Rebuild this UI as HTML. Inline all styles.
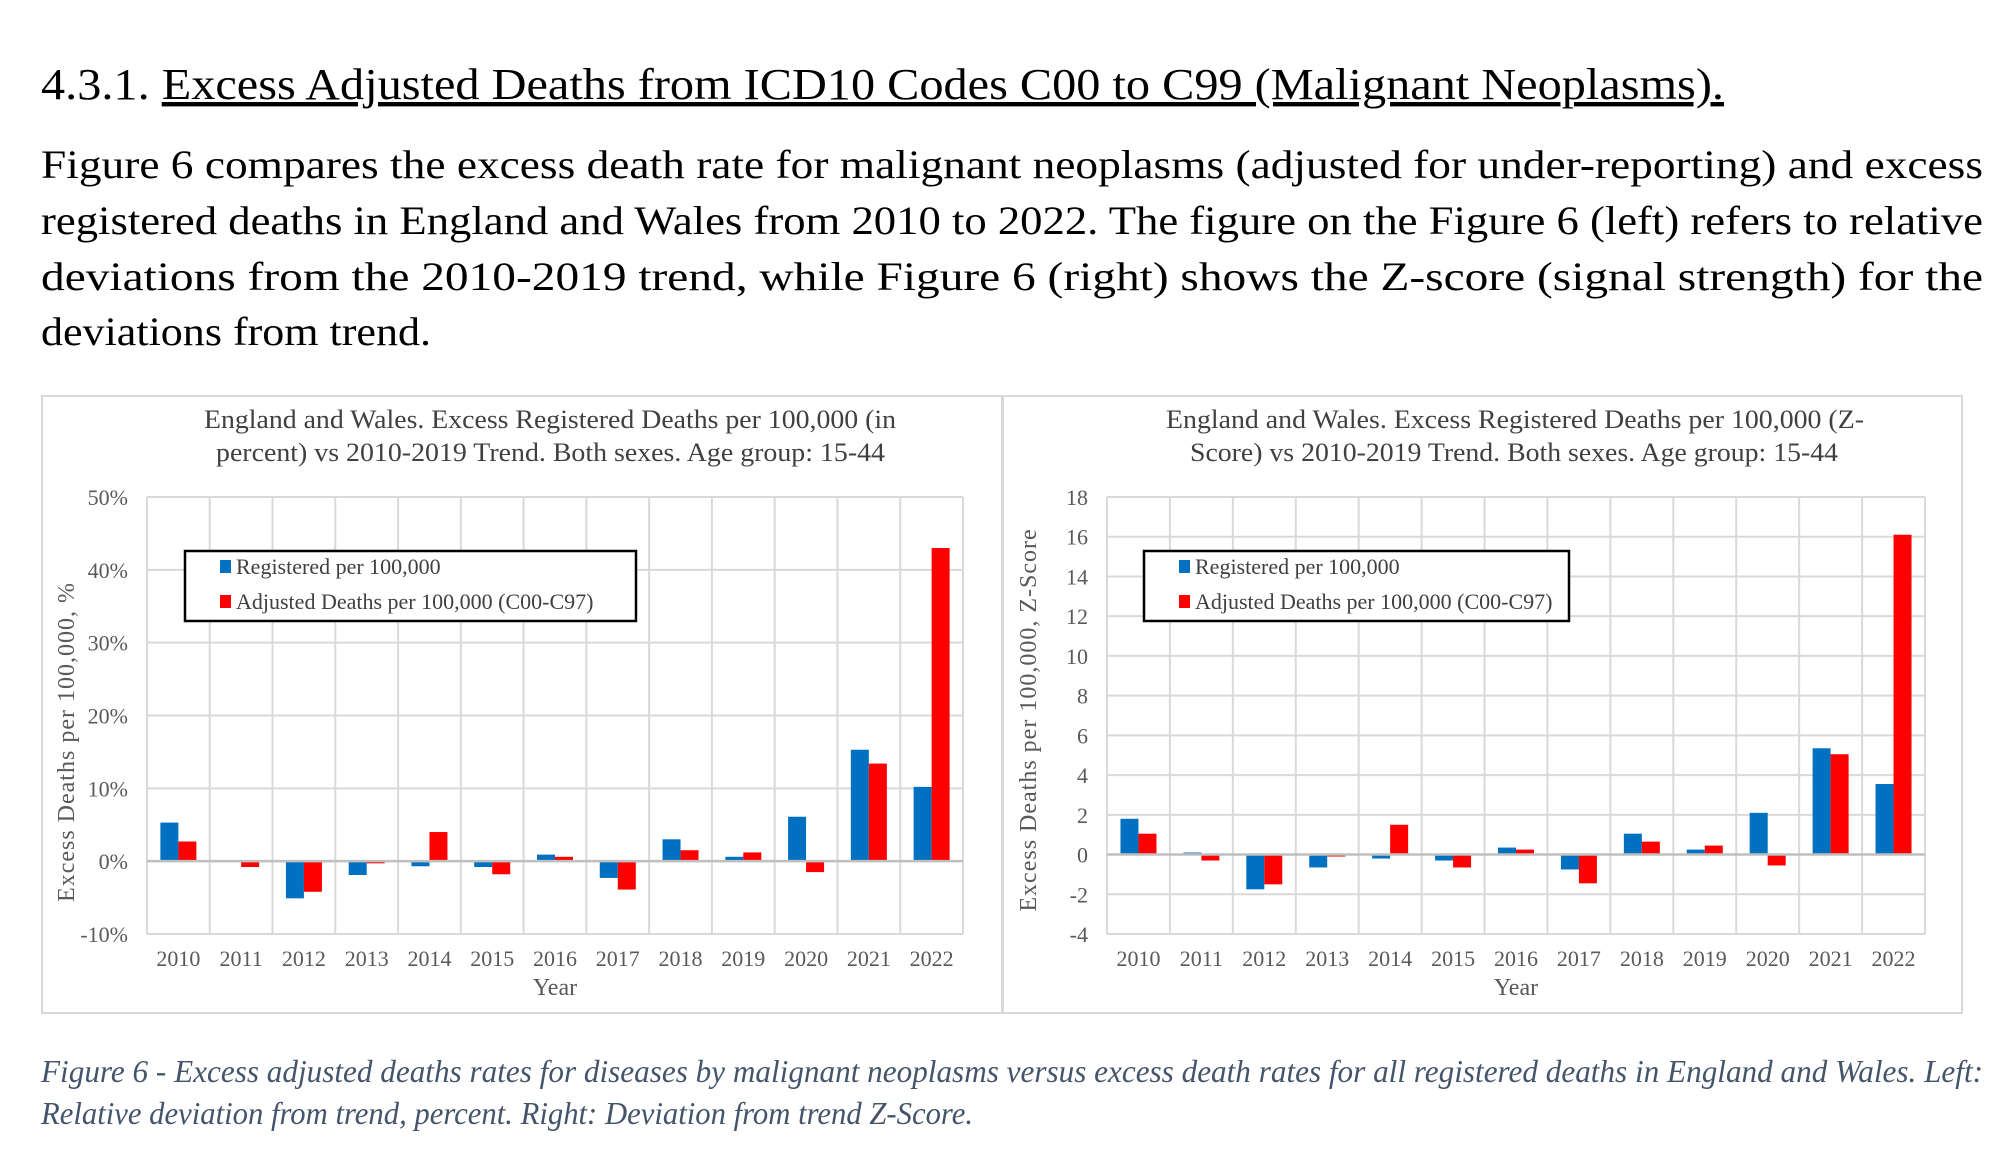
<!DOCTYPE html>
<html><head><meta charset="utf-8"><style>
html,body{margin:0;padding:0;background:#fff;}
svg{display:block;font-family:"Liberation Serif",serif;}
</style></head>
<body>
<svg id="page" width="1998" height="1154" viewBox="0 0 1998 1154" xmlns="http://www.w3.org/2000/svg">
<g font-size="44" fill="#000">
<text x="41" y="99" textLength="1683" lengthAdjust="spacingAndGlyphs">4.3.1. <tspan text-decoration="underline">Excess Adjusted Deaths from ICD10 Codes C00 to C99 (Malignant Neoplasms).</tspan></text>
</g>
<g font-size="40" fill="#000">
<text x="41" y="178" textLength="1942" lengthAdjust="spacingAndGlyphs">Figure 6 compares the excess death rate for malignant neoplasms (adjusted for under-reporting) and excess</text>
<text x="41" y="234" textLength="1942" lengthAdjust="spacingAndGlyphs">registered deaths in England and Wales from 2010 to 2022. The figure on the Figure 6 (left) refers to relative</text>
<text x="41" y="290" textLength="1942" lengthAdjust="spacingAndGlyphs">deviations from the 2010-2019 trend, while Figure 6 (right) shows the Z-score (signal strength) for the</text>
<text x="41" y="345" textLength="390" lengthAdjust="spacingAndGlyphs">deviations from trend.</text>
</g>
<g id="charts"></g>
<g font-size="32" font-style="italic" fill="#44546a">
<text x="41" y="1082" textLength="1942" lengthAdjust="spacingAndGlyphs">Figure 6 - Excess adjusted deaths rates for diseases by malignant neoplasms versus excess death rates for all registered deaths in England and Wales. Left:</text>
<text x="41" y="1124" textLength="932" lengthAdjust="spacingAndGlyphs">Relative deviation from trend, percent. Right: Deviation from trend Z-Score.</text>
</g>
</svg>
<script>
const years = ["2010","2011","2012","2013","2014","2015","2016","2017","2018","2019","2020","2021","2022"];
const leftRegistered = [5.3,0,-5.1,-1.9,-0.7,-0.8,0.9,-2.3,3.0,0.6,6.1,15.3,10.2];
const leftAdjusted = [2.7,-0.8,-4.2,-0.3,4.0,-1.8,0.6,-3.9,1.5,1.2,-1.5,13.4,43.0];
const leftTicks = [-10,0,10,20,30,40,50];
const rightRegistered = [1.8,0.1,-1.75,-0.65,-0.2,-0.3,0.35,-0.75,1.05,0.25,2.1,5.35,3.55];
const rightAdjusted = [1.05,-0.3,-1.5,-0.1,1.5,-0.65,0.25,-1.45,0.65,0.45,-0.55,5.05,16.1];
const rightTicks = [-4,-2,0,2,4,6,8,10,12,14,16,18];
const legendLabels = ["Registered per 100,000","Adjusted Deaths per 100,000 (C00-C97)"];

const NS="http://www.w3.org/2000/svg";
function mk(parent,tag,attrs,text){const e=document.createElementNS(NS,tag);for(const k in attrs)e.setAttribute(k,attrs[k]);if(text!==undefined)e.textContent=text;parent.appendChild(e);return e;}

function drawChart(cfg){
  const root=document.getElementById('charts');
  const g=mk(root,'g',{});
  
  
  const panel=mk(g,'rect',{x:cfg.px,y:396,width:cfg.pw,height:617,fill:'#fff',stroke:'#d9d9d9','stroke-width':2});
  
  
  const L=cfg.L,R=cfg.R,T=497,B=934;
  const ymin=cfg.ticks[0],ymax=cfg.ticks[cfg.ticks.length-1];
  const y=v=>B-(v-ymin)/(ymax-ymin)*(B-T);
  const cw=(R-L)/years.length;
  const x=i=>L+i*cw;
  const t1=mk(g,'text',{x:cfg.tx1,y:428,'font-size':26,fill:'#404040',textLength:cfg.tl1,lengthAdjust:'spacingAndGlyphs'},cfg.title[0]);
  
  
  const t2=mk(g,'text',{x:cfg.tx2,y:461,'font-size':26,fill:'#404040',textLength:cfg.tl2,lengthAdjust:'spacingAndGlyphs'},cfg.title[1]);
  
  
  cfg.ticks.forEach(tv=>{
    const ln=mk(g,'line',{x1:L,x2:R,y1:y(tv),y2:y(tv),stroke:'#d9d9d9','stroke-width':2});
    
    
    const lb=mk(g,'text',{x:cfg.tickX,y:y(tv)+8,'font-size':22,fill:'#595959','text-anchor':'end'},cfg.fmt(tv));
    
    
  });
  for(let i=0;i<=years.length;i++){
    const ln=mk(g,'line',{x1:x(i),x2:x(i),y1:T,y2:B,stroke:'#d9d9d9','stroke-width':2});
    
    
  }
  const bw=18,off=(cw-2*bw)/2;
  years.forEach((yr,i)=>{
    const a=cfg.reg[i],b=cfg.adj[i];
    const r1=mk(g,'rect',{x:x(i)+off,y:Math.min(y(a),y(0)),width:bw,height:Math.abs(y(a)-y(0)),fill:'#0070c0'});
    
    
    const r2=mk(g,'rect',{x:x(i)+off+bw,y:Math.min(y(b),y(0)),width:bw,height:Math.abs(y(b)-y(0)),fill:'#ff0000'});
    
    
    const xl=mk(g,'text',{x:x(i)+cw/2,y:966,'font-size':22,fill:'#595959','text-anchor':'middle'},yr);
    
    
  });
  const zl=mk(g,'line',{x1:L,x2:R,y1:y(0),y2:y(0),stroke:'#bfbfbf','stroke-width':2.5});
  
  
  const xt=mk(g,'text',{x:(L+R)/2,y:995,'font-size':24,fill:'#595959','text-anchor':'middle'},'Year');
  
  
  const yt=mk(g,'text',{x:0,y:0,'font-size':24,fill:'#595959','text-anchor':'middle','letter-spacing':1,transform:`translate(${cfg.ytx},${cfg.yty}) rotate(-90)`},cfg.ytitle);
  
  
  const lg=mk(g,'g',{});
  
  
  mk(lg,'rect',{x:cfg.lx,y:551,width:cfg.lw,height:70,fill:'#fff',stroke:'#000','stroke-width':2.5});
  const cols=['#0070c0','#ff0000'];
  legendLabels.forEach((lab,k)=>{
    const e=mk(lg,'g',{});
    
    
    mk(e,'rect',{x:cfg.lx+35,y:560+k*35,width:11,height:13,fill:cols[k]});
    mk(e,'text',{x:cfg.lx+51,y:574+k*35,'font-size':22,fill:'#404040'},lab);
  });
}
drawChart({name:'left-chart',px:42,pw:960,L:147,R:963,ticks:leftTicks,reg:leftRegistered,adj:leftAdjusted,fmt:v=>v+'%',tickX:128,
  title:['England and Wales. Excess Registered Deaths per 100,000 (in','percent) vs 2010-2019 Trend. Both sexes. Age group: 15-44'],
  tx1:204,tl1:692,tx2:216,tl2:669,ytitle:'Excess Deaths per 100,000, %',ytx:74,yty:742,lx:185,lw:451});
drawChart({name:'right-chart',px:1003,pw:959,L:1107,R:1925,ticks:rightTicks,reg:rightRegistered,adj:rightAdjusted,fmt:v=>String(v),tickX:1088,
  title:['England and Wales. Excess Registered Deaths per 100,000 (Z-','Score) vs 2010-2019 Trend. Both sexes. Age group: 15-44'],
  tx1:1166,tl1:698,tx2:1190,tl2:648,ytitle:'Excess Deaths per 100,000, Z-Score',ytx:1036,yty:720,lx:1144,lw:425});
</script>
</body></html>
